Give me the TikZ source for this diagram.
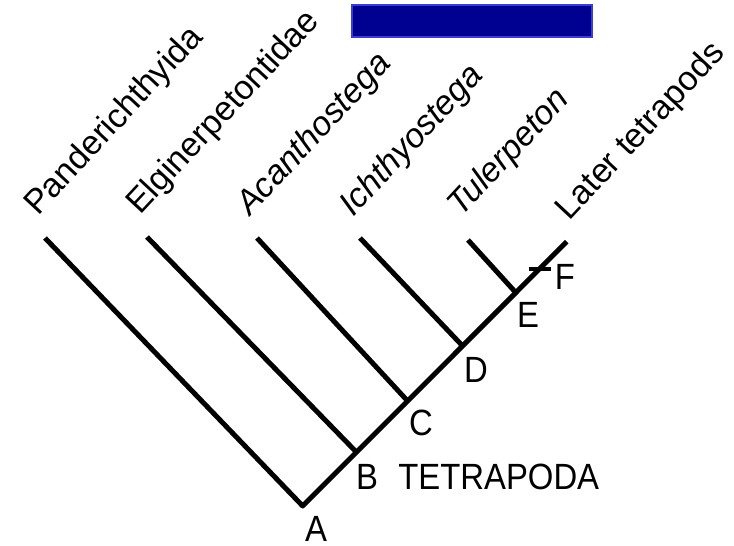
\documentclass[tikz,border=0pt]{standalone}
\usepackage{fontspec}
\setmainfont{Liberation Sans}
\newfontfamily\cladefont[FakeStretch=0.9]{Liberation Sans}
\usetikzlibrary{positioning}
\definecolor{barfill}{RGB}{0,0,145}
\definecolor{baredge}{RGB}{60,60,210}

\begin{document}
\begin{tikzpicture}[x=1pt,y=-1pt,
  branch/.style={line width=5pt,line join=round},
  taxon/.style={anchor=base west,rotate=47,inner sep=0pt,font=\fontsize{34}{40}\selectfont},
  clade/.style={inner sep=0pt,font=\cladefont\fontsize{36.5}{40}\selectfont}]
\useasboundingbox (0,0) rectangle (734,546);
\filldraw[fill=barfill,draw=baredge,line width=1.5pt] (352,5) rectangle (592,37);

\coordinate (A) at (302.7,506);
\coordinate (B) at (356,451.7);
\coordinate (C) at (408.3,401.7);
\coordinate (D) at (461.7,345);
\coordinate (E) at (515,291.7);
\coordinate (top) at (566.7,241.7);
\coordinate (Fm) at (539.5,269);

\coordinate (tipP) at (45,238);
\coordinate (tipEl) at (147,237);
\coordinate (tipAc) at (257,238);
\coordinate (tipIc) at (360,238);
\coordinate (tipTu) at (468,240);

\draw[branch] (tipP)--(A)--(top);
\draw[branch] (tipEl)--(B);
\draw[branch] (tipAc)--(C);
\draw[branch] (tipIc)--(D);
\draw[branch] (tipTu)--(E);
\draw[line width=4.5pt] ([xshift=-11pt]Fm)--([xshift=11pt]Fm);

\node[taxon] (pand) at ([xshift=-7pt,yshift=21pt]tipP) {Panderichthyida};
\node[taxon] (elgin) at ([xshift=-7pt,yshift=21pt]tipEl) {Elginerpetontidae};
\node[taxon] (acan) at ([xshift=-7pt,yshift=21pt]tipAc) {\itshape Acanthostega};
\node[taxon] (ichth) at ([xshift=-7pt,yshift=20pt]tipIc) {\itshape Ichthyostega};
\node[taxon] (tuler) at ([xshift=-7pt,yshift=22pt]tipTu) {\itshape Tulerpeton};
\node[taxon] (later) at ([xshift=3pt,yshift=20pt]top) {Later tetrapods};

\node[clade] (labA) at (316,529) {A};
\node[clade] (labB) at (367,477) {B};
\node[clade,right=20pt of labB] (tetra) {TETRAPODA};
\node[clade] (labC) at (421,423) {C};
\node[clade] (labD) at (476,370) {D};
\node[clade] (labE) at (528,315) {E};
\node[clade] (labF) at (565,277) {F};
\end{tikzpicture}
\end{document}
